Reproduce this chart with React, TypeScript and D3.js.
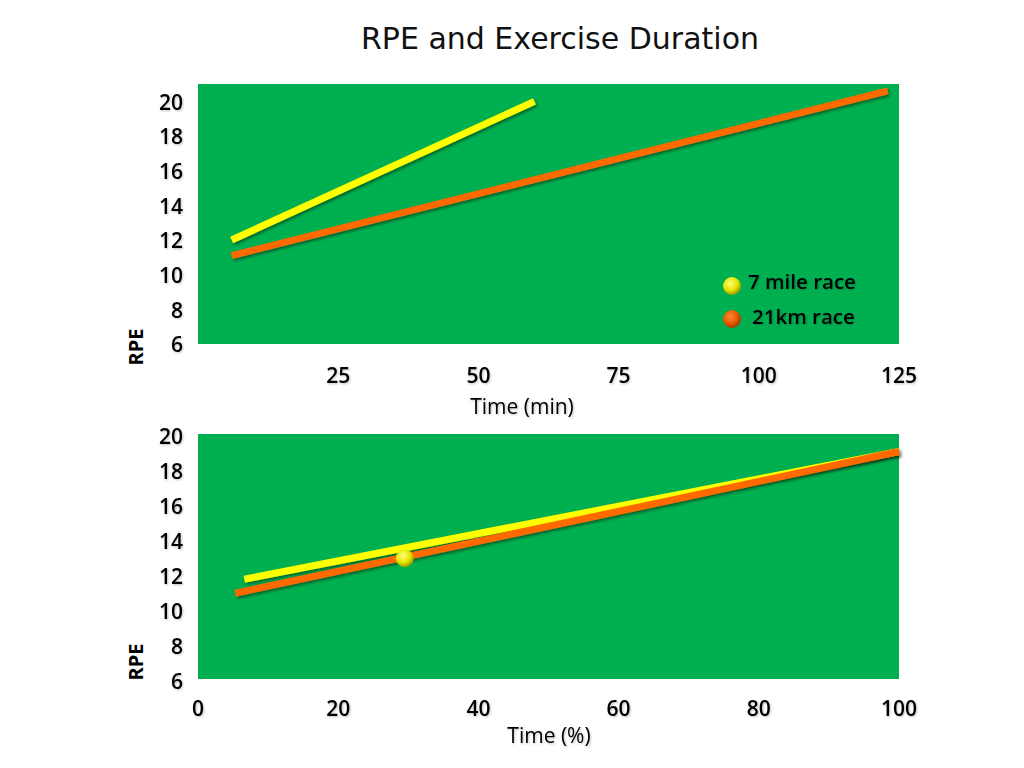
import React from "react";
import * as d3 from "d3";

const title = "RPE and Exercise Duration";
const seriesNames = ["7 mile race", "21km race"];
const seriesColors = ["#FFFF00", "#FF6A00"];

// Top chart: time in minutes
const topMileX = [6, 60];
const topMileY = [12, 20];
const topKmX = [6, 123];
const topKmY = [11.1, 20.6];
const topXTicks = [25, 50, 75, 100, 125];
const topYTicks = [6, 8, 10, 12, 14, 16, 18, 20];

// Bottom chart: time in %
const botMileX = [6.6, 100];
const botMileY = [11.7, 19];
const botKmX = [5.3, 100];
const botKmY = [10.9, 19];
const botPointX = [29.5];
const botPointY = [12.9];
const botXTicks = [0, 20, 40, 60, 80, 100];
const botYTicks = [6, 8, 10, 12, 14, 16, 18, 20];

const FONT = "'Open Sans', 'Noto Sans', sans-serif";
const GREEN = "#00B050";

const zip = (xs: number[], ys: number[]) => xs.map((x, i) => ({ x, y: ys[i] }));

export default function App() {
  const left = 198;
  const right = 899;

  const xTop = d3.scaleLinear().domain([0, 125]).range([left, right]);
  const yTop = d3.scaleLinear().domain([6, 21]).range([344, 84]);
  const xBot = d3.scaleLinear().domain([0, 100]).range([left, right]);
  const yBot = d3.scaleLinear().domain([6, 20]).range([679, 434]);

  const lineTop = d3
    .line<{ x: number; y: number }>()
    .x((d) => xTop(d.x))
    .y((d) => yTop(d.y));
  const lineBot = d3
    .line<{ x: number; y: number }>()
    .x((d) => xBot(d.x))
    .y((d) => yBot(d.y));

  const topLines = [zip(topMileX, topMileY), zip(topKmX, topKmY)];
  const botLines = [zip(botMileX, botMileY), zip(botKmX, botKmY)];
  const botPts = zip(botPointX, botPointY);

  const tickStyle = { fontSize: 21, fontWeight: 600 } as const;

  return (
    <svg
      width={1024}
      height={768}
      style={{ position: "absolute", left: 0, top: 0, background: "#fff" }}
      fontFamily={FONT}
    >
      <defs>
        <filter id="shadow" x="-10%" y="-50%" width="120%" height="200%">
          <feDropShadow dx="1.5" dy="2" stdDeviation="1.5" floodColor="#000" floodOpacity="0.45" />
        </filter>
        <filter id="tshadow" x="-10%" y="-30%" width="130%" height="160%">
          <feDropShadow dx="1" dy="1" stdDeviation="0.8" floodColor="#000" floodOpacity="0.25" />
        </filter>
        <radialGradient id="gy" cx="40%" cy="35%" r="65%">
          <stop offset="0%" stopColor="#FFFF80" />
          <stop offset="60%" stopColor="#E6E600" />
          <stop offset="100%" stopColor="#9A9A00" />
        </radialGradient>
        <radialGradient id="go" cx="40%" cy="35%" r="65%">
          <stop offset="0%" stopColor="#FF8A3A" />
          <stop offset="60%" stopColor="#E85A00" />
          <stop offset="100%" stopColor="#A03A00" />
        </radialGradient>
      </defs>

      <text x={560} y={49} textAnchor="middle" fontSize={30} fill="#111" fontFamily="'DejaVu Sans', sans-serif">
        {title}
      </text>

      {/* Top chart */}
      <rect x={left} y={yTop(21)} width={right - left} height={yTop(6) - yTop(21)} fill={GREEN} />
      {topYTicks.map((t) => (
        <text key={t} x={183} y={yTop(t) + 1} dy="0.35em" textAnchor="end" {...tickStyle} filter="url(#tshadow)">
          {t}
        </text>
      ))}
      {topXTicks.map((t) => (
        <text key={t} x={xTop(t)} y={383} textAnchor="middle" {...tickStyle} filter="url(#tshadow)">
          {t}
        </text>
      ))}
      <text x={522} y={414} textAnchor="middle" fontSize={21} fontWeight={500} filter="url(#tshadow)">
        Time (min)
      </text>
      <text transform="translate(143,347) rotate(-90)" textAnchor="middle" fontSize={20} fontWeight={700}>
        RPE
      </text>
      {topLines.map((d, i) => (
        <path key={i} d={lineTop(d) ?? ""} stroke={seriesColors[i]} strokeWidth={7} fill="none" filter="url(#shadow)" />
      ))}
      {/* Legend */}
      {seriesNames.map((n, i) => (
        <g key={n}>
          <circle cx={732} cy={286 + i * 33} r={9} fill={i === 0 ? "url(#gy)" : "url(#go)"} />
          <text x={i === 0 ? 748 : 752} y={282 + i * 35} dy="0.35em" fontSize={20.5} fontWeight={600} filter="url(#tshadow)">
            {n}
          </text>
        </g>
      ))}

      {/* Bottom chart */}
      <rect x={left} y={yBot(20)} width={right - left} height={yBot(6) - yBot(20)} fill={GREEN} />
      {botYTicks.map((t) => (
        <text key={t} x={183} y={yBot(t) + 3} dy="0.35em" textAnchor="end" {...tickStyle} filter="url(#tshadow)">
          {t}
        </text>
      ))}
      {botXTicks.map((t) => (
        <text key={t} x={xBot(t)} y={716} textAnchor="middle" {...tickStyle} filter="url(#tshadow)">
          {t}
        </text>
      ))}
      <text x={549} y={743} textAnchor="middle" fontSize={21} fontWeight={500} filter="url(#tshadow)">
        Time (%)
      </text>
      <text transform="translate(143,662) rotate(-90)" textAnchor="middle" fontSize={20} fontWeight={700}>
        RPE
      </text>
      {botLines.map((d, i) => (
        <path key={i} d={lineBot(d) ?? ""} stroke={seriesColors[i]} strokeWidth={7} fill="none" filter="url(#shadow)" />
      ))}
      {botPts.map((p, i) => (
        <circle key={i} cx={xBot(p.x)} cy={yBot(p.y)} r={9} fill="url(#gy)" />
      ))}
    </svg>
  );
}
